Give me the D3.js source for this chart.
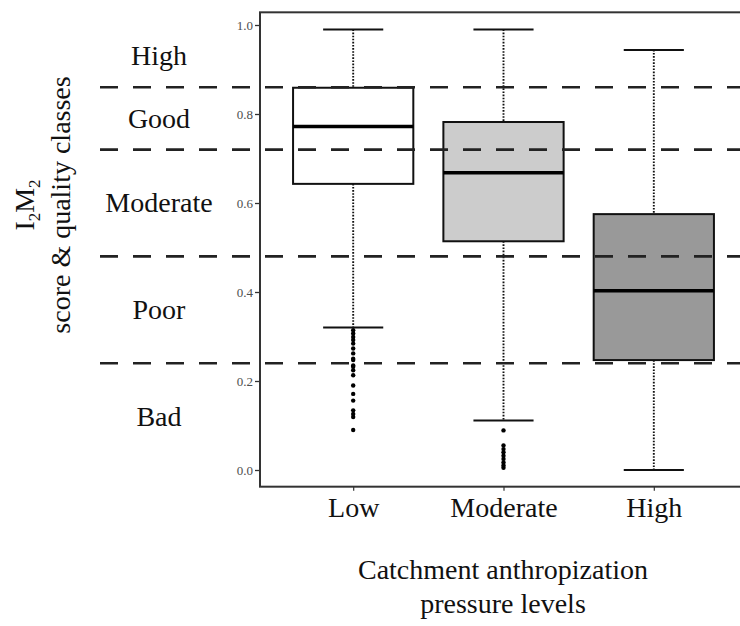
<!DOCTYPE html>
<meta charset="utf-8">
<script src="https://d3js.org/d3.v7.min.js"></script>
<style>
  body { margin: 0; background: #fff; }
  text { font-family: "Liberation Serif", "Times New Roman", serif; }
</style>
<div id="chart"></div>
<script>

// data
var groups = ["Low", "Moderate", "High"];
var whiskerTop = [0.99, 0.99, 0.944];
var q3 = [0.859, 0.782, 0.575];
var medians = [0.772, 0.668, 0.403];
var q1 = [0.643, 0.514, 0.247];
var whiskerBottom = [0.32, 0.111, 0.0];
var outliersLow = [0.314, 0.307, 0.299, 0.292, 0.284, 0.273, 0.262, 0.25, 0.247, 0.235,
                   0.232, 0.224, 0.213, 0.19, 0.171, 0.156, 0.134, 0.126, 0.119, 0.09];
var outliersModerate = [0.089, 0.055, 0.047, 0.04, 0.032, 0.025, 0.017, 0.01, 0.005];
var outliersHigh = [];
var classBreaks = [0.24, 0.48, 0.72, 0.86];
var classNames = ["Bad", "Poor", "Moderate", "Good", "High"];
var yTicks = [0, 0.2, 0.4, 0.6, 0.8, 1.0];

var width = 740, height = 626;
var fills = ["#ffffff", "#cccccc", "#999999"];

var svg = d3.select("#chart")
  .append("svg")
    .attr("width", width)
    .attr("height", height);

var x = d3.scalePoint()
  .domain(groups)
  .range([260, 747])
  .padding(0.62);

var y = d3.scaleLinear()
  .domain([0, 1])
  .range([470, 25]);

var boxW = x.step() * 0.8;
var capW = x.step() * 0.4;

var boxes = groups.map(function(g, i) {
  return {
    name: g, top: whiskerTop[i], q3: q3[i], med: medians[i], q1: q1[i], bottom: whiskerBottom[i],
    out: [outliersLow, outliersModerate, outliersHigh][i], fill: fills[i]
  };
});

// y axis ticks
var yAxis = svg.append("g")
  .attr("transform", "translate(260,0)")
  .call(d3.axisLeft(y).tickValues(yTicks).tickFormat(d3.format(".1f")).tickSize(5).tickPadding(2));
yAxis.attr("font-family", null);
yAxis.select(".domain").remove();
yAxis.selectAll("line").attr("stroke", "#333").attr("stroke-width", 1.3);
yAxis.selectAll("text")
  .style("font-family", "Liberation Serif, serif")
  .style("font-size", "13px")
  .attr("fill", "#4d4d4d");

// x axis ticks
var xAxis = svg.append("g")
  .attr("transform", "translate(0," + y(-0.0375) + ")")
  .call(d3.axisBottom(x).tickSize(4).tickPadding(6));
xAxis.attr("font-family", null);
xAxis.select(".domain").remove();
xAxis.selectAll("line").attr("stroke", "#333").attr("stroke-width", 1.2);
xAxis.selectAll("text")
  .style("font-family", "Liberation Serif, serif")
  .style("font-size", "28px")
  .attr("fill", "#111");

// whiskers (dotted), boxes, medians, outliers
var g = svg.append("g");
boxes.forEach(function(d) {
  var cx = x(d.name);
  g.append("line")
    .attr("x1", cx).attr("x2", cx)
    .attr("y1", y(d.top)).attr("y2", y(d.q3))
    .attr("stroke", "#111").attr("stroke-width", 1.9)
    .attr("stroke-dasharray", "1.6,1.5");
  g.append("line")
    .attr("x1", cx).attr("x2", cx)
    .attr("y1", y(d.q1)).attr("y2", y(d.bottom))
    .attr("stroke", "#111").attr("stroke-width", 1.9)
    .attr("stroke-dasharray", "1.6,1.5");
  [d.top, d.bottom].forEach(function(v) {
    g.append("line")
      .attr("x1", cx - capW / 2).attr("x2", cx + capW / 2)
      .attr("y1", y(v)).attr("y2", y(v))
      .attr("stroke", "#111").attr("stroke-width", 2);
  });
  g.append("rect")
    .attr("x", cx - boxW / 2)
    .attr("y", y(d.q3))
    .attr("width", boxW)
    .attr("height", y(d.q1) - y(d.q3))
    .attr("fill", d.fill)
    .attr("stroke", "#111")
    .attr("stroke-width", 2);
  g.append("line")
    .attr("x1", cx - boxW / 2).attr("x2", cx + boxW / 2)
    .attr("y1", y(d.med)).attr("y2", y(d.med))
    .attr("stroke", "#000").attr("stroke-width", 3.5);
  g.selectAll(null)
    .data(d.out)
    .enter().append("circle")
      .attr("cx", cx)
      .attr("cy", function(v) { return y(v); })
      .attr("r", 2.2)
      .attr("fill", "#000");
});

// quality class thresholds
svg.selectAll(".thr")
  .data(classBreaks)
  .enter().append("line")
    .attr("x1", 100).attr("x2", width)
    .attr("y1", function(d) { return y(d); })
    .attr("y2", function(d) { return y(d); })
    .attr("stroke", "#222")
    .attr("stroke-width", 2.6)
    .attr("stroke-dasharray", "18,15");

// class names centred in each band
var bandEdges = [0].concat(classBreaks).concat([1]);
svg.selectAll(".cls")
  .data(classNames)
  .enter().append("text")
    .attr("x", 159)
    .attr("y", function(d, i) { return y((bandEdges[i] + bandEdges[i + 1]) / 2); })
    .attr("dy", "0.33em")
    .attr("text-anchor", "middle")
    .style("font-size", "28px")
    .attr("fill", "#111")
    .text(function(d) { return d; });

// panel border
svg.append("rect")
  .attr("x", 260)
  .attr("y", y(1.0285))
  .attr("width", 500)
  .attr("height", y(-0.0375) - y(1.0285))
  .attr("fill", "none")
  .attr("stroke", "#333")
  .attr("stroke-width", 2);

// axis titles
var yTitle = svg.append("text")
  .attr("transform", "translate(0,205) rotate(-90)")
  .attr("text-anchor", "middle")
  .style("font-size", "28px")
  .attr("fill", "#111");
var l1 = yTitle.append("tspan").attr("x", 0).attr("y", 34);
l1.append("tspan").text("I");
l1.append("tspan").attr("dy", 6).style("font-size", "17px").text("2");
l1.append("tspan").attr("dy", -6).text("M");
l1.append("tspan").attr("dy", 6).style("font-size", "17px").text("2");
yTitle.append("tspan").attr("x", 0).attr("y", 70).text("score & quality classes");

svg.append("text")
  .attr("x", 503).attr("y", 579)
  .attr("text-anchor", "middle")
  .style("font-size", "28px")
  .attr("fill", "#111")
  .text("Catchment anthropization");
svg.append("text")
  .attr("x", 503).attr("y", 613)
  .attr("text-anchor", "middle")
  .style("font-size", "28px")
  .attr("fill", "#111")
  .text("pressure levels");

</script>
